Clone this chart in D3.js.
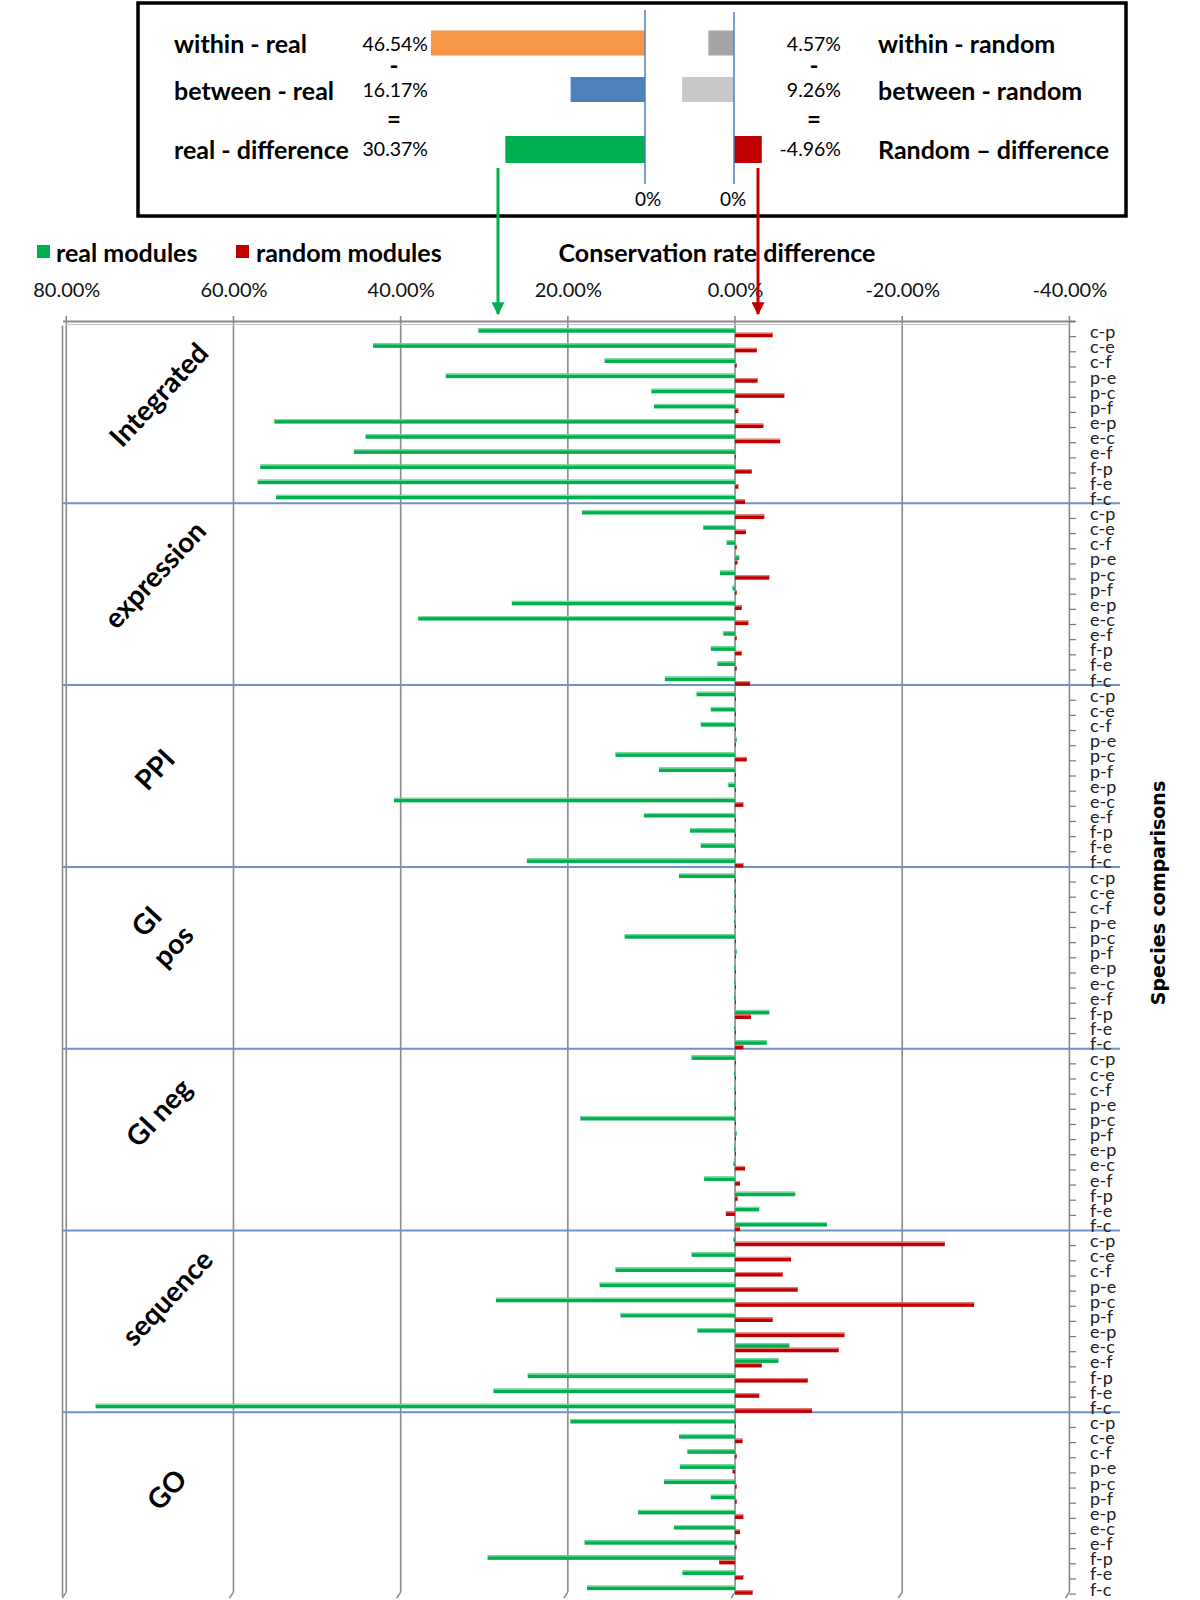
<!DOCTYPE html>
<html><head><meta charset="utf-8">
<script src="https://cdn.jsdelivr.net/npm/d3@7"></script>
<style>body{margin:0;background:#fff}</style>
</head><body><svg id="chart" width="1200" height="1600"></svg>
<script>
// ---------- data ----------
const groups = ["Integrated","expression","PPI","GI pos","GI neg","sequence","GO"];
const comparisons = ["c-p","c-e","c-f","p-e","p-c","p-f","e-p","e-c","e-f","f-p","f-e","f-c"];
const xTickValues = [80, 60, 40, 20, 0, -20, -40];

const realIntegrated = [30.7, 43.3, 15.6, 34.6, 10.0, 9.7, 55.1, 44.2, 45.6, 56.8, 57.1, 54.9];
const randomIntegrated = [-4.5, -2.6, -0.2, -2.7, -5.9, -0.4, -3.4, -5.4, -0.1, -2.0, -0.4, -1.2];
const realExpression = [18.3, 3.8, 1.0, -0.5, 1.8, 0.3, 26.7, 37.9, 1.4, 2.9, 2.1, 8.4];
const randomExpression = [-3.5, -1.3, -0.2, -0.3, -4.1, -0.2, -0.8, -1.6, -0.2, -0.8, -0.2, -1.8];
const realPPI = [4.6, 2.9, 4.1, -0.2, 14.3, 9.1, 0.8, 40.8, 10.9, 5.4, 4.1, 24.9];
const randomPPI = [-0.1, -0.1, -0.1, -0.1, -1.4, -0.1, -0.1, -1.0, -0.1, -0.1, -0.1, -1.0];
const realGIpos = [6.7, 0.1, 0.1, 0.1, 13.2, -0.2, 0.1, 0.1, 0.1, -4.1, 0.1, -3.8];
const randomGIpos = [-0.1, -0.1, -0.1, -0.1, -0.1, -0.1, -0.1, -0.1, -0.1, -1.9, -0.1, -1.0];
const realGIneg = [5.2, 0.1, 0.1, 0.1, 18.5, -0.2, 0.1, 0.2, 3.7, -7.2, -2.9, -11.0];
const randomGIneg = [-0.1, -0.1, -0.1, -0.1, -0.1, -0.1, -0.1, -1.2, -0.6, -0.3, 1.1, -0.6];
const realSequence = [0.2, 5.2, 14.3, 16.2, 28.6, 13.7, 4.5, -6.5, -5.2, 24.8, 28.9, 76.5];
const randomSequence = [-25.1, -6.7, -5.7, -7.5, -28.6, -4.5, -13.1, -12.4, -3.2, -8.7, -2.9, -9.2];
const realGO = [19.7, 6.7, 5.7, 6.6, 8.5, 2.9, 11.6, 7.3, 18.0, 29.6, 6.3, 17.7];
const randomGO = [-0.1, -0.9, -0.2, 0.3, -0.2, -0.2, -1.0, -0.6, -0.2, 1.9, -1.0, -2.1];

const realByGroup = [realIntegrated, realExpression, realPPI, realGIpos, realGIneg, realSequence, realGO];
const randomByGroup = [randomIntegrated, randomExpression, randomPPI, randomGIpos, randomGIneg, randomSequence, randomGO];

// inset summary
const insetRealLabels = ["within - real", "between - real", "real - difference"];
const insetRealValues = [46.54, 16.17, 30.37];
const insetRandomLabels = ["within - random", "between - random", "Random \u2013 difference"];
const insetRandomValues = [4.57, 9.26, -4.96];
const insetOperators = ["-", "="];

// ---------- layout ----------
const FONT = "Lato, 'Open Sans', sans-serif";
const GREEN = "#00b050", GREEN_HI = "#7fd9a3", RED = "#c00000", RED_HI = "#e88080";
const fmt = d3.formatLocale({decimal: ".", thousands: ",", grouping: [3], currency: ["", ""], minus: "-"}).format(".2f");
const pct = v => fmt(v) + "%";

const svg = d3.select("#chart");
svg.append("rect").attr("width", 1200).attr("height", 1600).attr("fill", "#fff");

const rows = [];
groups.forEach((g, gi) => comparisons.forEach((c, ci) => rows.push({
  key: g + "|" + c, group: g, comp: c, real: realByGroup[gi][ci], random: randomByGroup[gi][ci]
})));

const x = d3.scaleLinear().domain([80, -40]).range([66.3, 1069.4]);
const y = d3.scaleBand().domain(rows.map(d => d.key)).range([321.5, 1594.1]).padding(0);
const bw = y.bandwidth();
const plotTop = 321.5, plotBottom = 1594.1;

// gridlines
const grid = svg.append("g");
xTickValues.forEach(v => {
  grid.append("line").attr("x1", x(v)).attr("x2", x(v)).attr("y1", 316).attr("y2", plotBottom - 2)
    .attr("stroke", "#8a8a8a").attr("stroke-width", 1.6);
  grid.append("line").attr("x1", x(v)).attr("x2", x(v) - 4).attr("y1", plotBottom - 2).attr("y2", plotBottom + 4)
    .attr("stroke", "#8a8a8a").attr("stroke-width", 1.6);
});
// top floor line and left wall
grid.append("line").attr("x1", 63).attr("x2", 1075).attr("y1", plotTop).attr("y2", plotTop)
  .attr("stroke", "#8a8a8a").attr("stroke-width", 2.2);
grid.append("line").attr("x1", 66).attr("x2", 1069).attr("y1", plotTop + 3).attr("y2", plotTop + 3)
  .attr("stroke", "#c4c4c4").attr("stroke-width", 1);
grid.append("line").attr("x1", 62.5).attr("x2", 62.5).attr("y1", plotTop + 4).attr("y2", plotBottom + 2)
  .attr("stroke", "#8a8a8a").attr("stroke-width", 1.6);
// right axis ticks
d3.range(rows.length + 1).forEach(i => {
  const yy = plotTop + i * bw;
  grid.append("line").attr("x1", 1069.4).attr("x2", 1076).attr("y1", yy).attr("y2", yy)
    .attr("stroke", "#777").attr("stroke-width", 1.2);
});

// x tick labels (top)
const xAxis = d3.axisTop(x).tickValues(xTickValues).tickSize(0).tickFormat(pct);
const ax = svg.append("g").attr("transform", "translate(0,300)").call(xAxis);
ax.select(".domain").remove();
ax.selectAll("text").attr("font-family", FONT).attr("font-size", 20).attr("fill", "#111").attr("dy", 0);

// group separators
d3.range(1, groups.length).forEach(k => {
  const yy = y(groups[k] + "|" + comparisons[0]);
  svg.append("line").attr("x1", 63).attr("x2", 1120).attr("y1", yy).attr("y2", yy)
    .attr("stroke", "#6e93c8").attr("stroke-width", 2);
});

// bars
const bars = svg.append("g");
function drawBars(field, off, color, hi) {
  bars.selectAll(null).data(rows).enter().append("rect")
    .attr("x", d => Math.min(x(d[field]), x(0)))
    .attr("width", d => Math.max(1, Math.abs(x(d[field]) - x(0))))
    .attr("y", d => y(d.key) + off * bw)
    .attr("height", 0.3 * bw)
    .attr("fill", color);
  bars.selectAll(null).data(rows).enter().append("rect")
    .attr("x", d => Math.min(x(d[field]), x(0)))
    .attr("width", d => Math.max(1, Math.abs(x(d[field]) - x(0))))
    .attr("y", d => y(d.key) + off * bw)
    .attr("height", 1.2)
    .attr("fill", hi);
}
drawBars("real", 0.44, GREEN, GREEN_HI);
drawBars("random", 0.74, RED, RED_HI);

// right category labels
svg.append("g").selectAll("text").data(rows).enter().append("text")
  .attr("x", 1090).attr("y", d => y(d.key) + 0.64 * bw)
  .attr("dominant-baseline", "central")
  .attr("font-family", FONT).attr("font-size", 18).attr("fill", "#222")
  .text(d => d.comp);

// species comparisons title
svg.append("text").attr("transform", "translate(1158,893) rotate(-90)")
  .attr("text-anchor", "middle").attr("dominant-baseline", "central")
  .attr("font-family", "'DejaVu Sans', sans-serif").attr("font-weight", "bold").attr("font-size", 19)
  .text("Species comparisons");

// group labels
const labelCenters = [[158, 394], [154, 574], [154, 769], [159, 933], [158, 1112], [166.5, 1297], [166, 1489]];
groups.forEach((g, gi) => {
  const t = svg.append("text")
    .attr("transform", `translate(${labelCenters[gi][0]},${labelCenters[gi][1]}) rotate(-47)`)
    .attr("text-anchor", "middle")
    .attr("font-family", FONT).attr("font-weight", "bold").attr("font-size", 28).attr("fill", "#000");
  if (g === "GI pos") {
    t.append("tspan").attr("x", 0).attr("y", -18).attr("dominant-baseline", "central").text("GI");
    t.append("tspan").attr("x", 0).attr("y", 18).attr("dominant-baseline", "central").text("pos");
  } else {
    t.attr("dominant-baseline", "central").text(g);
  }
});

// legend
svg.append("rect").attr("x", 37).attr("y", 245).attr("width", 13).attr("height", 13).attr("fill", GREEN);
svg.append("text").attr("x", 56).attr("y", 252).attr("dominant-baseline", "central")
  .attr("font-family", FONT).attr("font-weight", "bold").attr("font-size", 25).text("real modules");
svg.append("rect").attr("x", 236).attr("y", 245).attr("width", 13).attr("height", 13).attr("fill", RED);
svg.append("text").attr("x", 256).attr("y", 252).attr("dominant-baseline", "central")
  .attr("font-family", FONT).attr("font-weight", "bold").attr("font-size", 25).text("random modules");
svg.append("text").attr("x", 717).attr("y", 252).attr("text-anchor", "middle").attr("dominant-baseline", "central")
  .attr("font-family", FONT).attr("font-weight", "bold").attr("font-size", 25).text("Conservation rate difference");

// ---------- inset ----------
svg.append("rect").attr("x", 138).attr("y", 3).attr("width", 988).attr("height", 213)
  .attr("fill", "none").attr("stroke", "#000").attr("stroke-width", 3.5);
const leftScale = d3.scaleLinear().domain([0, 50]).range([645, 645 - 230]);
const rightScale = d3.scaleLinear().domain([0, 10]).range([734, 734 - 56]);
const rowY = d3.scaleOrdinal().domain([0, 1, 2]).range([43, 89.5, 148.5]);
const leftColors = ["#f79646", "#4f81bd", GREEN];
const rightColors = ["#a5a5a5", "#c9c9c9", RED];
const BH = 25;
insetRealValues.forEach((v, i) => {
  svg.append("rect").attr("x", leftScale(v)).attr("width", leftScale(0) - leftScale(v))
    .attr("y", rowY(i) - BH / 2).attr("height", BH + (i === 2 ? 2 : 0)).attr("fill", leftColors[i]);
  svg.append("text").attr("x", 174).attr("y", rowY(i)).attr("dominant-baseline", "central")
    .attr("font-family", FONT).attr("font-weight", "bold").attr("font-size", 25).text(insetRealLabels[i]);
  svg.append("text").attr("x", 428).attr("y", rowY(i)).attr("text-anchor", "end").attr("dominant-baseline", "central")
    .attr("font-family", FONT).attr("font-size", 19.5).text(pct(v));
});
insetRandomValues.forEach((v, i) => {
  const x0 = rightScale(0), x1 = rightScale(v);
  svg.append("rect").attr("x", Math.min(x0, x1)).attr("width", Math.abs(x1 - x0))
    .attr("y", rowY(i) - BH / 2).attr("height", BH + (i === 2 ? 2 : 0)).attr("fill", rightColors[i]);
  svg.append("text").attr("x", 878).attr("y", rowY(i)).attr("dominant-baseline", "central")
    .attr("font-family", FONT).attr("font-weight", "bold").attr("font-size", 25).text(insetRandomLabels[i]);
  svg.append("text").attr("x", 841).attr("y", rowY(i)).attr("text-anchor", "end").attr("dominant-baseline", "central")
    .attr("font-family", FONT).attr("font-size", 19.5).text(pct(v));
});
insetOperators.forEach((op, i) => {
  const yy = i === 0 ? 64 : 118;
  [394, 814].forEach(xx => svg.append("text").attr("x", xx).attr("y", yy).attr("text-anchor", "middle")
    .attr("dominant-baseline", "central").attr("font-family", FONT).attr("font-weight", "bold").attr("font-size", 24).text(op));
});
// zero lines
svg.append("line").attr("x1", leftScale(0)).attr("x2", leftScale(0)).attr("y1", 10).attr("y2", 184)
  .attr("stroke", "#4f81bd").attr("stroke-width", 1.5);
svg.append("line").attr("x1", rightScale(0)).attr("x2", rightScale(0)).attr("y1", 12).attr("y2", 184)
  .attr("stroke", "#4f81bd").attr("stroke-width", 1.5);
svg.append("text").attr("x", leftScale(0) + 3).attr("y", 198).attr("text-anchor", "middle").attr("dominant-baseline", "central")
  .attr("font-family", FONT).attr("font-size", 19).text("0%");
svg.append("text").attr("x", rightScale(0) - 1).attr("y", 198).attr("text-anchor", "middle").attr("dominant-baseline", "central")
  .attr("font-family", FONT).attr("font-size", 19).text("0%");

// arrows
const defs = svg.append("defs");
[["ag", GREEN], ["ar", RED]].forEach(([id, c]) => {
  defs.append("marker").attr("id", id).attr("viewBox", "0 0 10 10").attr("refX", 9).attr("refY", 5)
    .attr("markerUnits", "userSpaceOnUse").attr("markerWidth", 13).attr("markerHeight", 13).attr("orient", "auto")
    .append("path").attr("d", "M0,0 L10,5 L0,10 Z").attr("fill", c);
});
svg.append("line").attr("x1", 498).attr("x2", 498).attr("y1", 168).attr("y2", 314)
  .attr("stroke", GREEN).attr("stroke-width", 3).attr("marker-end", "url(#ag)");
svg.append("line").attr("x1", 758).attr("x2", 758).attr("y1", 168).attr("y2", 314)
  .attr("stroke", RED).attr("stroke-width", 3).attr("marker-end", "url(#ar)");
</script>
</body></html>
